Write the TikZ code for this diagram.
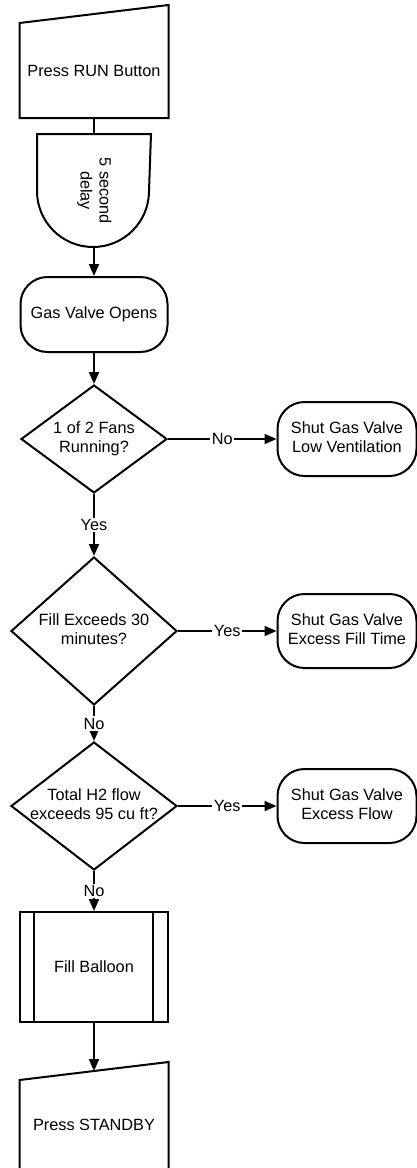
\documentclass[tikz,border=0pt]{standalone}
\usepackage{graphicx}
\usepackage{fontspec}
\setmainfont{Liberation Sans}
\usetikzlibrary{arrows.meta,calc,shapes.geometric}

\newcommand{\twoline}[2]{\begin{tabular}{@{}c@{}}#1\\#2\end{tabular}}
\newcommand{\dtext}[2]{\makebox[0pt]{\twoline{#1}{#2}}}

\begin{document}
\begin{tikzpicture}[x=1pt,y=1pt,>={Triangle[length=12pt,width=10pt]},
        line width=2pt,font=\fontsize{16.3}{19}\selectfont,
        inbox/.style={minimum width=147pt,inner sep=0pt},
        term/.style={draw,rounded corners=27pt,minimum width=#1,minimum height=74pt,inner sep=0pt},
        decide/.style={draw,diamond,inner sep=0pt}]
        \useasboundingbox (0,0) rectangle (416,-1168);

        \node[inbox,minimum height=93pt]        at (94,-70.5)   (run)      {Press RUN Button};
        \draw (run.south west) -- (run.north west) -- ([yshift=18pt]run.north east) -- (run.south east) -- cycle;

        \node[minimum width=112pt,minimum height=111pt,inner sep=0pt]
                                                at (94,-190.5)  (delay)    {\rotatebox{-90}{\twoline{5 second}{delay}}};
        \draw (delay.north west) -- ([yshift=56pt]delay.south west)
              arc[start angle=180,end angle=360,radius=56pt] -- (delay.north east) -- cycle;

        \node[term=147pt,minimum height=75pt]   at (94,-314.5)  (opens)    {Gas Valve Opens};

        \node[decide,minimum width=146pt,minimum height=108pt]
                                                at (94,-439)    (fans)     {\dtext{1 of 2 Fans}{Running?}};
        \node[term=139pt]                       at (347,-439)   (lowvent)  {\twoline{Shut Gas Valve}{Low Ventilation}};

        \node[decide,minimum width=166pt,minimum height=148pt]
                                                at (94,-631)    (fill30)   {\dtext{Fill Exceeds 30}{minutes?}};
        \node[term=139pt]                       at (347,-631)   (filltime) {\twoline{Shut Gas Valve}{Excess Fill Time}};

        \node[decide,minimum width=166pt,minimum height=128pt]
                                                at (94,-806)    (flow)     {\dtext{Total H2 flow}{exceeds 95 cu ft?}};
        \node[term=139pt]                       at (347,-806)   (excflow)  {\twoline{Shut Gas Valve}{Excess Flow}};

        \node[draw,minimum width=148pt,minimum height=110pt,inner sep=0pt]
                                                at (94,-967)    (balloon)  {Fill Balloon};
        \draw ([xshift=15pt]balloon.north west) -- ([xshift=15pt]balloon.south west);
        \draw ([xshift=-16pt]balloon.north east) -- ([xshift=-16pt]balloon.south east);

        \node[inbox,minimum height=88pt]        at (94,-1125)   (standby)  {Press STANDBY};
        \draw (standby.south west) -- (standby.north west) -- ([yshift=18pt]standby.north east) -- (standby.south east) -- cycle;
        \coordinate (standbytop) at ($(standby.north)+(0,9)$);

        \draw (run) -- (delay);
        \path [->,every node/.style={fill=white,inner sep=1.5pt}]
        (delay)   edge                  (opens)
        (opens)   edge                  (fans)
        (fans)    edge node {No}        (lowvent)
        (fans)    edge node {Yes}       (fill30)
        (fill30)  edge node {Yes}       (filltime)
        (fill30)  edge node {No}        (flow)
        (flow)    edge node {Yes}       (excflow)
        (flow)    edge node {No}        (balloon)
        (balloon) edge                  (standbytop);
    \end{tikzpicture}
\end{document}
